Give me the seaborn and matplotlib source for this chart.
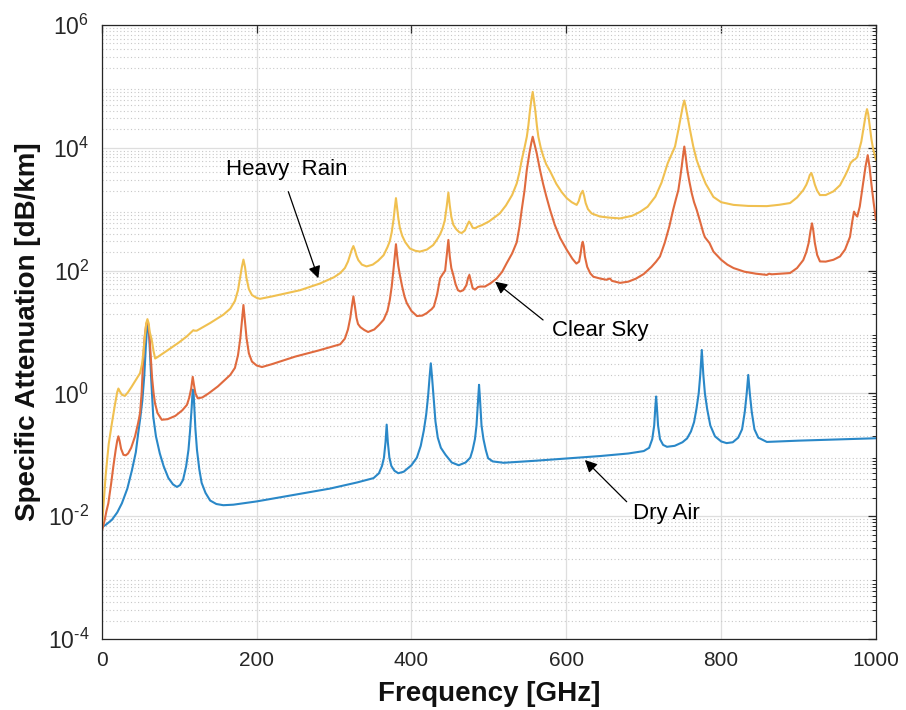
import numpy as np
import pandas as pd
import matplotlib
matplotlib.use("Agg")
import matplotlib.pyplot as plt
import matplotlib.ticker as mticker
import seaborn as sns

# ---------------- data ----------------
dry_f = [0, 5, 13, 20, 26, 33, 39, 44, 47, 50, 52.5, 55, 57, 58.5, 59.5, 60.5, 61.5, 62.5,
         64, 66.5, 70, 75, 80, 86, 92, 97, 101, 105, 109, 112, 114, 116, 117.5, 118.5,
         119.5, 121, 123, 126, 129, 134, 140, 148, 157, 170, 200, 250, 295, 330, 351, 358,
         362, 364.5, 366.5, 368, 369.5, 371.5, 374, 378, 383, 390, 400, 407, 412, 416, 419,
         421.5, 423.5, 425, 426.5, 428.5, 431, 434, 438, 444, 452, 461, 470, 476, 479, 482,
         484, 486.3, 487.3, 488.3, 490.5, 493, 496, 499, 505, 519, 560, 600, 644, 680, 700,
         707, 711, 713.5, 715, 716, 717, 718.5, 721, 725, 730, 740, 750, 756, 761, 765, 768,
         771, 773, 775, 777, 779, 782, 786, 792, 800, 807, 815, 822, 827, 830.5, 833, 835,
         837, 839.5, 843, 848, 859, 900, 950, 1000]
dry_v = [0.0066, 0.0072, 0.0087, 0.0115, 0.0162, 0.028, 0.056, 0.11, 0.22, 0.42, 0.78, 2.0,
         6.0, 11.5, 13.8, 12.0, 7.5, 4.0, 1.6, 0.42, 0.2, 0.105, 0.065, 0.042, 0.033, 0.030,
         0.032, 0.039, 0.065, 0.12, 0.24, 0.55, 1.15, 1.1, 0.6, 0.26, 0.12, 0.058, 0.035,
         0.024, 0.018, 0.0158, 0.0151, 0.0154, 0.0174, 0.0224, 0.0282, 0.0355, 0.0417, 0.050,
         0.066, 0.09, 0.16, 0.31, 0.16, 0.09, 0.066, 0.055, 0.0501, 0.053, 0.0676, 0.09, 0.14,
         0.25, 0.45, 0.9, 1.9, 3.09, 1.9, 0.9, 0.35, 0.19, 0.13, 0.1, 0.075, 0.0676, 0.075,
         0.09, 0.12, 0.18, 0.3, 0.9, 1.38, 0.9, 0.3, 0.18, 0.12, 0.088, 0.078, 0.0741, 0.080,
         0.0871, 0.0955, 0.105, 0.115, 0.13, 0.18, 0.3, 0.6, 0.89, 0.6, 0.3, 0.18, 0.145,
         0.135, 0.14, 0.16, 0.185, 0.24, 0.34, 0.55, 1.0, 2.0, 5.1, 2.0, 1.0, 0.55, 0.3, 0.2,
         0.165, 0.155, 0.16, 0.19, 0.26, 0.5, 1.0, 2.0, 1.0, 0.5, 0.26, 0.19, 0.162, 0.170,
         0.178, 0.186]

clear_f = [0, 2, 4, 6, 8.5, 12, 15, 18, 20, 21.5, 23, 25, 28, 31, 34, 38, 43, 47, 49.5, 51.5,
           53.7, 55.5, 57.5, 59, 60.5, 61.8, 63.3, 65, 67, 68.8, 72, 77.5, 85, 95, 104, 110,
           113, 115.5, 117.5, 119, 121, 124, 130, 138, 150, 159, 166, 172, 176, 179, 181, 183,
           185, 187, 190, 194, 200, 207, 220, 250, 280, 308, 314, 318, 321, 323, 325, 327,
           329, 331, 334, 339, 344, 352, 358, 364, 369, 372, 374.5, 377, 378.5, 380, 381.5,
           383, 385, 388, 391, 394, 400, 407, 414, 420, 424, 426, 429, 433, 437, 441, 443.5,
           445.5, 447.7, 449.5, 451.5, 454, 457, 460, 463, 467, 471, 473, 474.8, 476.5, 479,
           482, 486, 489, 495, 502, 510, 517, 523, 530, 536, 539.5, 542.4, 546, 549, 552.3,
           554.8, 556.6, 558.5, 561.8, 566, 570, 574, 579, 585, 592, 600.5, 608, 613, 616.5,
           618.5, 620, 621.2, 622.5, 624, 627, 631, 635, 644, 652, 654, 656.5, 659, 669.4,
           680, 690, 700, 710, 716, 721, 727, 733, 738, 741.5, 744.7, 747, 749, 750.8, 752.4,
           754, 756.3, 759, 762, 765, 768.4, 773, 777, 779, 785, 790, 800, 808, 816, 830, 845,
           855, 859, 862, 865, 889, 898, 906, 910, 913, 915.5, 917.3, 919, 921, 924, 927.6,
           935, 945, 953.5, 960, 966.4, 969.5, 971.6, 973.5, 975.8, 979, 982, 984.5, 986.5,
           989.3, 991.5, 994, 997, 1000]
clear_v = [0.0056, 0.007, 0.0089, 0.012, 0.0162, 0.033, 0.065, 0.12, 0.17, 0.2, 0.17, 0.125,
           0.1, 0.098, 0.105, 0.13, 0.2, 0.33, 0.48, 1.0, 3.98, 8.5, 13.5, 14.8, 13, 8, 4.0,
           1.8, 1.0, 0.69, 0.48, 0.372, 0.38, 0.43, 0.53, 0.65, 0.85, 1.2, 1.86, 1.4, 1.0,
           0.832, 0.86, 1.0, 1.3, 1.66, 2.0, 2.6, 4.2, 8, 15, 27.5, 15, 8, 4.5, 3.3, 2.85,
           2.69, 3.0, 3.98, 5.0, 6.31, 7.8, 11, 17, 26, 38, 26, 17, 13.5, 12.0, 10.8, 10.0,
           11.0, 13, 15.8, 22, 33, 55, 110, 175, 269, 175, 120, 85, 55, 38, 29.5, 22, 18.2,
           18.5, 20.4, 22.5, 23.5, 26, 40, 75, 90, 100, 170, 316, 170, 110, 85, 60, 48, 45.7,
           48, 58, 75, 85, 70, 52, 49.0, 54, 55, 55, 62, 74.1, 95, 132, 190, 290, 520, 977,
           2000, 4365, 8128, 12000, 15140, 12000, 8128, 4365, 2600, 1650, 977, 560, 340, 219,
           155, 130, 140, 190, 260, 295, 250, 170, 115, 90, 79.4, 74.1, 70.8, 73, 74.1, 68,
           63.1, 66, 74, 88, 115, 140, 170, 280, 520, 977, 1450, 2042, 3200, 4898, 7500, 10470,
           7500, 4365, 2800, 1820, 1300, 977, 620, 410, 350, 280, 204, 150, 125, 110, 96, 89,
           86, 85.1, 89, 87, 91.2, 110, 148, 200, 282, 450, 589, 450, 282, 180, 141, 140, 150,
           170, 220, 355, 650, 912, 820, 759, 1100, 1995, 3200, 5000, 7586, 5000, 2600, 1259,
           661]

rain_f = [0, 1.5, 3, 5, 6.5, 9, 13, 17, 20, 21.5, 23, 26, 30, 34, 38.7, 44, 49.5, 52, 53.7,
          55.5, 57.5, 59, 60.5, 62, 64.6, 67, 69, 72, 86, 100, 110, 116, 118.3, 120, 122.7,
          140, 157, 166, 172, 176, 179, 181, 183, 185, 187, 190, 194, 200, 204.4, 220, 256,
          282, 300, 308, 314, 318, 321, 323, 325, 327, 329, 331.4, 336, 342, 350, 357, 364,
          369, 372, 374.5, 377, 378.5, 380, 381.5, 383, 385, 388, 392, 398, 405, 411, 420,
          428, 433, 437, 440, 443, 445.5, 447.7, 449.5, 451.5, 454, 458, 462, 465, 469, 472,
          474.4, 476.5, 479, 482, 486, 491, 500, 514, 522, 530, 536, 539.5, 542.4, 546, 549,
          551, 553, 555, 556.6, 558, 560, 562, 563.9, 567, 570.3, 574, 579, 587, 594, 600.5,
          607, 613.4, 616, 618.5, 621.2, 623, 625, 628, 632.8, 643.6, 655, 669.4, 685, 695,
          705, 715, 723, 731, 736, 740.4, 744.7, 748.5, 750.5, 752.4, 754, 756, 759.8, 764,
          768.4, 774, 780, 790, 800, 816, 835, 859, 875, 889, 898, 906, 910, 912.5, 914.5,
          916.5, 918.5, 921, 924, 927.6, 935, 945, 953.5, 960, 964, 967, 970.7, 973, 975.8,
          978, 981, 983, 985, 986.8, 988.4, 990, 992, 994, 996, 1000]
rain_v = [0.006, 0.011, 0.02, 0.045, 0.072, 0.15, 0.32, 0.65, 1.05, 1.2, 1.1, 0.95, 0.91,
          1.05, 1.29, 1.65, 2.14, 3.0, 4.47, 8, 14, 16.2, 14, 10, 7.4, 4.8, 3.7, 3.9, 5.13,
          6.8, 8.5, 10.0, 10.7, 10.5, 10.5, 14, 19.1, 24, 32, 48, 80, 115, 151, 115, 75, 50,
          40, 36, 34.7, 38, 47.9, 61.7, 78, 91.2, 110, 140, 185, 220, 251, 215, 175, 148, 125,
          117, 125, 145, 178, 240, 300, 420, 700, 1050, 1514, 1050, 720, 500, 370, 290, 229,
          210, 204, 220, 260, 320, 390, 480, 650, 1100, 1862, 1150, 750, 560, 470, 420, 410,
          450, 550, 631, 580, 500, 490, 520, 550, 630, 851, 1150, 1700, 2630, 4000, 6310,
          10000, 15140, 23000, 39810, 62000, 81280, 62000, 39810, 23000, 15140, 10000, 7244,
          5400, 4169, 2600, 1900, 1514, 1300, 1175, 1350, 1750, 1995, 1650, 1259, 1000, 851,
          759, 730, 708, 780, 900, 1096, 1600, 2700, 5623, 7800, 10470, 19500, 35480, 48000,
          58880, 48000, 35480, 19500, 10470, 6310, 4000, 2600, 1585, 1300, 1175, 1130, 1122,
          1180, 1259, 1550, 2042, 2500, 3000, 3600, 3890, 3300, 2512, 2000, 1698, 1700, 1950,
          2455, 3500, 4467, 5600, 6310, 6500, 7079, 9000, 12590, 18000, 25120, 35000, 42660,
          35000, 22390, 14000, 10000, 6310]

series_names = ["Dry Air", "Clear Sky", "Heavy Rain"]
x_ticks = [0, 200, 400, 600, 800, 1000]
y_exponents = [-4, -2, 0, 2, 4, 6]

df = pd.concat([
    pd.DataFrame({"Frequency": dry_f, "Attenuation": dry_v, "Series": "Dry Air"}),
    pd.DataFrame({"Frequency": clear_f, "Attenuation": clear_v, "Series": "Clear Sky"}),
    pd.DataFrame({"Frequency": rain_f, "Attenuation": rain_v, "Series": "Heavy Rain"}),
], ignore_index=True)

palette = {"Dry Air": "#2a88c8", "Clear Sky": "#e06a3e", "Heavy Rain": "#f0c050"}

# ---------------- style ----------------
sns.set_style("white")
plt.rcParams["font.family"] = ["Liberation Sans", "DejaVu Sans"]
plt.rcParams["mathtext.fontset"] = "custom"
plt.rcParams["mathtext.rm"] = "Liberation Sans"
plt.rcParams["mathtext.it"] = "Liberation Sans:italic"
plt.rcParams["mathtext.bf"] = "Liberation Sans:bold"

fig = plt.figure(figsize=(9.06, 7.10), dpi=100)
ax = fig.add_axes([0.1123, 0.100, 0.8546, 0.8648])

sns.lineplot(data=df, x="Frequency", y="Attenuation", hue="Series",
             hue_order=series_names, palette=palette, sort=False, estimator=None,
             linewidth=1.5, legend=False, ax=ax)

ax.set_yscale("log")
ax.set_xlim(0, 1000)
ax.set_ylim(1e-4, 1e6)
ax.set_xticks(x_ticks)
ax.set_yticks([10.0 ** e for e in y_exponents])


def exp_label(val, pos):
    e = int(round(np.log10(val)))
    if e < 0:
        return r"$\mathregular{10^{\text{-}%d}}$" % (-e)
    return r"$\mathregular{10^{%d}}$" % e


ax.yaxis.set_major_formatter(mticker.FuncFormatter(exp_label))
ax.yaxis.set_minor_locator(mticker.LogLocator(base=10, subs=np.arange(2, 10), numticks=100))
ax.yaxis.set_minor_formatter(mticker.NullFormatter())
ax.xaxis.set_minor_locator(mticker.NullLocator())

ax.grid(True, which="major", axis="both", color="#dedede", linewidth=0.9, linestyle="-")
ax.grid(True, which="minor", axis="y", color="#c8c8c8", linewidth=0.8, linestyle=(0, (1, 2.2)))
ax.set_axisbelow(True)

for s in ax.spines.values():
    s.set_color("#262626")
    s.set_linewidth(0.9)

ax.tick_params(which="both", direction="in", top=True, right=True, colors="#262626")
ax.tick_params(which="major", length=5.5, width=0.9, labelsize=15, labelcolor="#262626")
ax.tick_params(which="minor", length=3, width=0.7)
ax.tick_params(axis="x", pad=8.5)
ax.tick_params(axis="y", pad=9, labelsize=16.5)

ax.set_xlabel("Frequency [GHz]", fontsize=20, fontweight="bold", labelpad=8, color="#111111")
ax.set_ylabel("Specific Attenuation [dB/km]", fontsize=20, fontweight="bold", labelpad=5,
              color="#111111")

# ---------------- annotations ----------------
arrow = dict(arrowstyle="-|>", color="black", lw=0.9, mutation_scale=18,
             shrinkA=0, shrinkB=0)
ax.annotate("", xy=(279.7, 75), xytext=(241, 1928), arrowprops=arrow)
ax.text(239, 4365, "Heavy  Rain", fontsize=16, ha="center", va="center", color="black")

ax.annotate("", xy=(508, 66), xytext=(570, 15.7), arrowprops=arrow)
ax.text(643.5, 10.4, "Clear Sky", fontsize=16, ha="center", va="center", color="black")

ax.annotate("", xy=(624, 0.0822), xytext=(678, 0.0172), arrowprops=arrow)
ax.text(729, 0.0112, "Dry Air", fontsize=16, ha="center", va="center", color="black")

fig.savefig("out.png", dpi=100)
